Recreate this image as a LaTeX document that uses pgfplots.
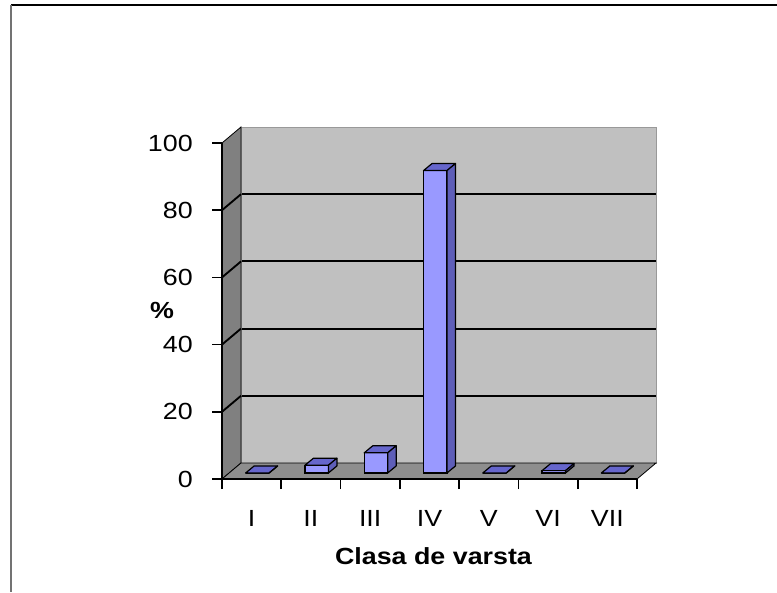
\documentclass[border=0pt]{standalone}
\usepackage{fontspec}
\setmainfont{Liberation Sans}[FakeStretch=1.15]
\usepackage{pgfplots}
\pgfplotsset{compat=1.18}
\usepackage{pgfplotstable}

\definecolor{backwall}{HTML}{C0C0C0}
\definecolor{sidewall}{HTML}{808080}
\definecolor{floorc}{HTML}{8E8E8E}
\definecolor{barfront}{HTML}{9999FF}
\definecolor{bartop}{HTML}{6666CC}
\definecolor{barside}{HTML}{5E5EB8}

\pgfplotstableread{
cat v
1 0
2 2.3
3 6
4 90
5 0
6 0.7
7 0
}\datatable

\newcommand{\bw}{8.8pt}
\newcommand{\ddx}{6.4pt}
\newcommand{\ddy}{5.3pt}

\pgfdeclareplotmark{prism}{%
  \pgfpathmoveto{\pgfpoint{-\bw}{0pt}}%
  \pgfpathlineto{\pgfpoint{\bw}{0pt}}%
  \pgfpathlineto{\pgfpoint{\bw+\ddx}{\ddy}}%
  \pgfpathlineto{\pgfpoint{-\bw+\ddx}{\ddy}}%
  \pgfpathclose
  \pgfsetfillcolor{bartop}%
  \pgfusepath{fill,stroke}%
  \pgfpathmoveto{\pgfpoint{\bw}{0pt}}%
  \pgfpathlineto{\pgfpoint{\bw}{-\barh*1pt}}%
  \pgfpathlineto{\pgfpoint{\bw+\ddx}{\ddy-\barh*1pt}}%
  \pgfpathlineto{\pgfpoint{\bw+\ddx}{\ddy}}%
  \pgfpathclose
  \pgfsetfillcolor{barside}%
  \pgfusepath{fill,stroke}%
}

\newcommand{\fs}{\fontsize{17.5pt}{20pt}\selectfont}

\begin{document}
\begin{tikzpicture}
\useasboundingbox (0,0) rectangle (582.75pt,444pt);
% outer frame
\draw[black, line width=1pt] (8.25pt,440.25pt) -- (582.75pt,440.25pt);
\draw[black!55, line width=1.5pt] (8.25pt,440.25pt) -- (8.25pt,0pt);

% back wall with gridlines
\begin{axis}[at={(180.75pt,96.75pt)}, anchor=south west, scale only axis,
  width=311.25pt, height=252pt, xmin=0, xmax=7, ymin=0, ymax=100,
  axis background/.style={fill=backwall},
  axis line style={draw=black!40, line width=0.5pt},
  xtick=\empty, ytick={20,40,60,80}, yticklabels={}, major tick length=0pt,
  ymajorgrids, grid style={black, line width=1.4pt}]
\end{axis}

% front plane: side wall, floor, axes, ticks, labels
\begin{axis}[at={(166.5pt,84.75pt)}, anchor=south west, scale only axis,
  width=311.25pt, height=252pt, xmin=0, xmax=7, ymin=0, ymax=100,
  axis on top, clip=false,
  axis x line*=bottom, axis y line*=left,
  axis line style={black, line width=1.2pt},
  tick align=outside, major tick length=7.5pt,
  tick style={black, line width=1.2pt},
  /pgf/number format/assume math mode=true,
  ytick={0,20,...,100},
  yticklabel style={font=\fs, anchor=east, inner sep=0pt, xshift=-14.25pt},
  xtick={0,...,7}, xticklabels={},
  extra x ticks={0.5,1.5,...,6.5},
  extra x tick labels={I,II,III,IV,V,VI,VII},
  extra x tick style={major tick length=0pt, tick style={draw=none},
    xticklabel style={font=\fs, anchor=north, inner sep=0pt, yshift=-23.25pt}},
  xlabel={\bfseries Clasa de varsta},
  every axis x label/.style={at={(axis description cs:0.5,0)}, anchor=north,
    inner sep=0pt, yshift=-51pt, xshift=3pt, font=\fs},
  ylabel={\bfseries\%},
  every axis y label/.style={at={(axis description cs:0,0.503)}, anchor=center,
    xshift=-45pt, font=\fs}]
\filldraw[fill=sidewall, draw=black, line width=0.6pt]
  (axis cs:0,0) -- (axis cs:0,100) -- ([shift={(14.25pt,12pt)}]axis cs:0,100)
  -- ([shift={(14.25pt,12pt)}]axis cs:0,0) -- cycle;
\filldraw[fill=floorc, draw=black, line width=0.6pt]
  (axis cs:0,0) -- (axis cs:7,0) -- ([shift={(14.25pt,12pt)}]axis cs:7,0)
  -- ([shift={(14.25pt,12pt)}]axis cs:0,0) -- cycle;
\pgfplotsinvokeforeach{20,40,60,80}{
  \draw[black, line width=1.4pt] (axis cs:0,#1) -- ([shift={(14.25pt,12pt)}]axis cs:0,#1);
}
\end{axis}

% bars
\begin{axis}[at={(170.8pt,89.25pt)}, anchor=south west, scale only axis,
  width=311.25pt, height=252pt, xmin=0, xmax=7, ymin=0, ymax=100,
  axis lines=none, clip=false]
\addplot[ybar, bar width=17.6pt, fill=barfront, draw=black, line width=0.9pt]
  table[x expr=\thisrow{cat}-0.5, y=v] {\datatable};
\addplot[scatter, only marks, mark=prism,
  scatter/use mapped color={draw=black, fill=black},
  mark options={line width=0.9pt, line join=round},
  visualization depends on={\thisrow{v}*2.52 \as \barh}]
  table[x expr=\thisrow{cat}-0.5, y=v] {\datatable};
\end{axis}
\end{tikzpicture}
\end{document}
